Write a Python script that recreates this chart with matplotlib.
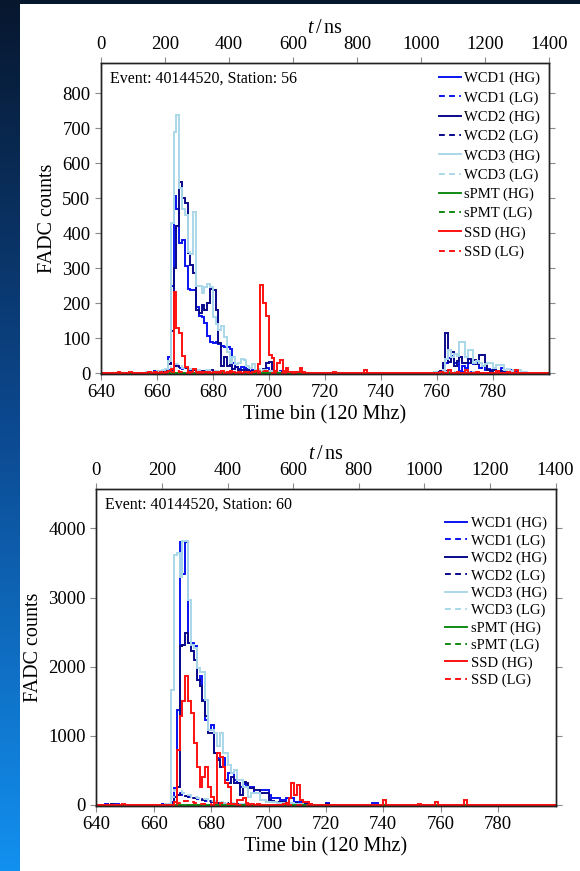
import numpy as np
import matplotlib.pyplot as plt
from matplotlib.colors import LinearSegmentedColormap
from matplotlib.patches import Rectangle

plt.rcParams.update({
    "font.family": "serif",
    "font.serif": ["Liberation Serif", "DejaVu Serif"],
    "mathtext.fontset": "custom",
    "mathtext.rm": "Liberation Serif",
    "mathtext.it": "Liberation Serif:italic",
    "axes.linewidth": 1.0,
    "axes.edgecolor": "#222222",
    "xtick.direction": "out",
    "ytick.direction": "out",
    "xtick.major.size": 4,
    "ytick.major.size": 4,
    "xtick.color": "#8a8a8a",
    "ytick.color": "#8a8a8a",
    "xtick.labelcolor": "black",
    "ytick.labelcolor": "black",
    "xtick.labelsize": 13.5,
    "ytick.labelsize": 13.5,
    "axes.labelsize": 14.5,
})

EVENT_ID = 40144520
BIN_LO, BIN_HI = 640, 800
CHANNELS = ["WCD1", "WCD2", "WCD3", "sPMT", "SSD"]
CH_COLORS = ["#0a14f0", "#0a0a8c", "#a9d8ea", "#138a13", "#ff1010"]

# ---- station 56: FADC counts per time bin ----
ST56_MAIN = 656
st56_wcd1_hg = [2, 0, 3, 5, 2, 6, 4, 10, 45, 250,
                505, 470, 372, 380, 305, 240, 238, 238, 190, 162,
                160, 143, 105, 88, 86, 88, 82, 78, 76, 76,
                70, 30, 18, 12, 18, 14, 12, 5, 10, 4,
                6, 3, 8, 14, 6, 10, 4, 2, 5, 2,
                0, 3, 0, 2, 0, 3, 0]
st56_wcd2_hg = [0, 2, 0, 3, 2, 4, 3, 6, 25, 120,
                300, 420, 547, 500, 486, 343, 310, 286, 180, 172,
                195, 180, 200, 240, 238, 180, 87, 19, 45, 20,
                35, 12, 18, 8, 10, 5, 8, 3, 6, 2,
                5, 3, 12, 30, 33, 10, 5, 2, 4, 0,
                3, 0, 2, 0, 0, 2, 0]
st56_wcd3_hg = [3, 0, 3, 2, 5, 3, 8, 12, 35, 430,
                690, 738, 530, 470, 452, 345, 340, 459, 250, 250,
                230, 247, 255, 247, 160, 140, 124, 135, 104, 60,
                30, 45, 25, 30, 40, 38, 20, 15, 25, 10,
                12, 6, 8, 4, 5, 3, 2, 4, 0, 2,
                0, 0, 3, 0, 0, 0, 2]
st56_ssd_hg = [0, 3, 0, 2, 0, 3, 0, 2, 5, 12,
               233, 128, 114, 50, 18, 4, 2, 12, 3, 2,
               0, 4, 2, 0, 3, 0, 2, 5, 0, 2,
               6, 2, 0, 3, 0, 2, 4, 0, 3, 5,
               25, 252, 200, 162, 52, 44, 5, 30, 38, 5,
               14, 3, 2, 4, 3, 16, 4]

ST56_LG = 660
st56_wcd1_lg = [0, 2, 1, 3, 8, 15, 22, 18, 14, 12,
                10, 9, 8, 7, 6, 6, 5, 5, 4, 3,
                3, 4, 2, 3, 2, 2, 1, 2, 1, 0]
st56_wcd2_lg = [1, 0, 2, 2, 5, 10, 16, 20, 18, 15,
                14, 11, 10, 8, 6, 6, 7, 6, 7, 8,
                7, 5, 3, 2, 2, 1, 2, 1, 0, 1]
st56_wcd3_lg = [0, 1, 0, 2, 4, 18, 26, 25, 20, 16,
                15, 12, 11, 14, 9, 8, 8, 8, 8, 8,
                6, 5, 4, 4, 3, 2, 2, 1, 1, 1]
st56_ssd_lg = [0, 0, 1, 0, 0, 2, 8, 5, 4, 2,
               1, 0, 0, 1, 0, 0, 0, 1, 0, 0,
               0, 0, 0, 0, 0, 0, 0, 0, 0, 0,
               0, 0, 0, 0, 0, 0, 1, 8, 6, 5,
               2, 1, 0, 1]

ST56_LATE = 758
st56_wcd1_hg_late = [0, 2, 3, 5, 20, 30, 42, 48, 30, 30,
                     5, 20, 15, 30, 38, 25, 30, 15, 20, 10,
                     12, 8, 10, 5, 3, 14, 4, 2, 8, 3,
                     2, 0, 3, 0, 0]
st56_wcd2_hg_late = [0, 0, 2, 5, 28, 116, 33, 60, 20, 35,
                     47, 30, 28, 40, 30, 38, 25, 52, 52, 24,
                     10, 5, 8, 3, 2, 5, 0, 2, 0, 3,
                     0, 0, 0, 0, 0]
st56_wcd3_hg_late = [0, 2, 0, 3, 10, 40, 67, 45, 55, 50,
                     90, 90, 47, 67, 67, 28, 35, 30, 20, 25,
                     28, 28, 15, 24, 24, 24, 10, 12, 5, 10,
                     8, 10, 3, 2, 0]
st56_ssd_hg_late = [0, 0, 0, 3, 0, 0, 10, 0, 0, 2,
                    0, 0, 8, 0, 0, 0, 2, 0, 0, 0,
                    0, 0, 0, 5, 0, 0, 0, 3, 0, 0,
                    10, 0, 0, 0, 0]
ST56_LG_LATE = 762
st56_wcd1_lg_late = [1, 2, 3, 2, 1, 2, 1, 2, 1, 1, 2, 1, 0, 1, 0]
st56_wcd2_lg_late = [2, 5, 3, 3, 2, 2, 3, 2, 1, 2, 2, 3, 1, 0, 1]
st56_wcd3_lg_late = [1, 3, 3, 2, 3, 4, 3, 2, 2, 2, 1, 2, 1, 1, 0]
st56_ssd_hg_blip = [(734, 8), (723, 3), (646, 4), (650, 3)]

# ---- station 60 ----
ST60_MAIN = 662
st60_wcd1_hg = [5, 8, 10, 15, 40, 250, 1380, 3810, 3340, 3810,
                2340, 2340, 2300, 1810, 1860, 1520, 1230, 1090, 1160, 750,
                680, 700, 680, 360, 460, 460, 360, 315, 265, 310,
                290, 265, 260, 170, 170, 215, 220, 210, 145, 97,
                100, 95, 72, 70, 97, 95, 97, 48, 50, 48,
                45, 48, 10, 5, 3]
st60_wcd2_hg = [3, 5, 8, 10, 30, 120, 266, 2295, 2320, 2490,
                2345, 2220, 2100, 1810, 1715, 1500, 1280, 1040, 1040, 750,
                650, 555, 555, 315, 315, 410, 315, 315, 145, 338,
                315, 240, 240, 217, 217, 170, 170, 170, 72, 60,
                48, 48, 48, 40, 30, 35, 25, 30, 20, 15,
                10, 8, 5, 2, 0]
st60_wcd3_hg = [5, 3, 8, 20, 1670, 3620, 3650, 3300, 3816, 3816,
                2970, 2320, 2270, 1980, 1930, 1930, 1520, 1090, 1090, 1040,
                846, 1040, 750, 750, 580, 460, 507, 362, 362, 266,
                266, 121, 170, 170, 170, 72, 72, 50, 50, 45,
                40, 35, 30, 25, 30, 20, 25, 15, 10, 8,
                5, 3, 2, 0, 0]
st60_ssd_hg = [0, 2, 0, 5, 3, 40, 800, 1280, 1500, 1860,
               1500, 1330, 895, 555, 266, 411, 556, 266, 121, 24,
               750, 700, 556, 314, 266, 10, 20, 70, 72, 100,
               30, 15, 10, 5, 8, 3, 5, 2, 4, 2,
               0, 3, 5, 10, 30, 97, 314, 145, 290, 72,
               48, 48, 10, 3, 0]

ST60_LG = 664
st60_wcd1_lg = [0, 5, 20, 210, 190, 170, 150, 130, 115, 100,
                95, 90, 80, 75, 62, 55, 48, 42, 35, 30,
                28, 25, 20, 18, 15, 12, 10, 8, 6, 5]
st60_wcd2_lg = [0, 3, 10, 40, 150, 160, 150, 135, 120, 105,
                95, 85, 80, 72, 65, 55, 48, 40, 35, 30,
                25, 22, 18, 15, 12, 10, 8, 6, 5, 3]
st60_wcd3_lg = [0, 5, 110, 220, 210, 195, 180, 160, 140, 125,
                115, 105, 100, 92, 80, 70, 60, 52, 45, 40,
                35, 30, 26, 22, 18, 15, 12, 10, 8, 6]
st60_ssd_lg = [0, 0, 2, 5, 30, 45, 55, 62, 50, 45,
               30, 20, 12, 15, 18, 10, 5, 3, 2, 25,
               22, 18, 12, 8, 2, 0, 2, 3, 3, 4]

st60_wcd1_hg_blip = [(643, 20), (647, 12), (720, 24), (736, 24), (737, 30)]
st60_wcd2_hg_blip = [(645, 10), (720, 20)]
st60_ssd_hg_blip = [(649, 15), (740, 75), (752, 15), (758, 40), (768, 70)]


def trace(segments=(), blips=()):
    counts = np.zeros(BIN_HI - BIN_LO)
    for start, vals in segments:
        i = start - BIN_LO
        counts[i:i + len(vals)] += vals
    for b, v in blips:
        counts[b - BIN_LO] += v
    return counts


st56 = {
    "WCD1": (trace([(ST56_MAIN, st56_wcd1_hg), (ST56_LATE, st56_wcd1_hg_late)]),
             trace([(ST56_LG, st56_wcd1_lg), (ST56_LG_LATE, st56_wcd1_lg_late)])),
    "WCD2": (trace([(ST56_MAIN, st56_wcd2_hg), (ST56_LATE, st56_wcd2_hg_late)]),
             trace([(ST56_LG, st56_wcd2_lg), (ST56_LG_LATE, st56_wcd2_lg_late)])),
    "WCD3": (trace([(ST56_MAIN, st56_wcd3_hg), (ST56_LATE, st56_wcd3_hg_late)]),
             trace([(ST56_LG, st56_wcd3_lg), (ST56_LG_LATE, st56_wcd3_lg_late)])),
    "sPMT": (trace(), trace()),
    "SSD": (trace([(ST56_MAIN, st56_ssd_hg), (ST56_LATE, st56_ssd_hg_late)], st56_ssd_hg_blip),
            trace([(ST56_LG, st56_ssd_lg)])),
}
st60 = {
    "WCD1": (trace([(ST60_MAIN, st60_wcd1_hg)], st60_wcd1_hg_blip),
             trace([(ST60_LG, st60_wcd1_lg)])),
    "WCD2": (trace([(ST60_MAIN, st60_wcd2_hg)], st60_wcd2_hg_blip),
             trace([(ST60_LG, st60_wcd2_lg)])),
    "WCD3": (trace([(ST60_MAIN, st60_wcd3_hg)]),
             trace([(ST60_LG, st60_wcd3_lg)])),
    "sPMT": (trace(), trace()),
    "SSD": (trace([(ST60_MAIN, st60_ssd_hg)], st60_ssd_hg_blip),
            trace([(ST60_LG, st60_ssd_lg)])),
}

W, H = 580, 871
fig = plt.figure(figsize=(W / 100, H / 100), dpi=100)

# slide backdrop: blue gradient behind a white page
bg = fig.add_axes([0, 0, 1, 1], zorder=-10)
bg.set_axis_off()
slide = LinearSegmentedColormap.from_list("slide", ["#07172e", "#0c4a92", "#1290f0"])
bg.imshow(np.linspace(0, 1, 256)[:, None], aspect="auto", cmap=slide,
          extent=[0, 1, 0, 1], origin="upper")
bg.add_patch(Rectangle((20 / W, 0), 1, 1 - 4 / H, color="white", lw=0))
bg.set_xlim(0, 1)
bg.set_ylim(0, 1)


def px_rect(left, top, right, bottom):
    return [left / W, 1 - bottom / H, (right - left) / W, (bottom - top) / H]


def draw_station(rect, station, traces, ylim, yticks, legend_gap, legend_y):
    ax = fig.add_axes(rect)
    edges = np.arange(BIN_LO, BIN_HI + 1)
    for ch, color in zip(CHANNELS, CH_COLORS):
        hg, lg = traces[ch]
        ax.stairs(hg, edges, baseline=None, color=color, lw=1.4, label=f"{ch} (HG)")
        ax.stairs(lg, edges, baseline=None, color=color, lw=1.4,
                  ls=(0, (3.0, 2.2)), label=f"{ch} (LG)")
    ax.set_xlim(BIN_LO, BIN_HI)
    ax.set_ylim(*ylim)
    ax.set_xticks(np.arange(640, 800, 20))
    ax.set_yticks(yticks)
    ax.tick_params(right=True, top=False)
    ax.set_xlabel("Time bin (120 Mhz)", labelpad=3)
    ax.set_ylabel("FADC counts", labelpad=4)
    ax.text(0.02, 0.975, f"Event: {EVENT_ID}, Station: {station}",
            transform=ax.transAxes, ha="left", va="top", fontsize=11.5)
    ax.legend(loc="upper right", bbox_to_anchor=(1.0, legend_y), frameon=False,
              fontsize=10.5, handlelength=1.5, handletextpad=0.25,
              labelspacing=legend_gap, borderaxespad=0.3, borderpad=0.3)

    top = ax.twiny()
    top.set_xlim(0, 1400)
    top.set_xticks(np.arange(0, 1401, 200))
    top.set_xlabel(r"$t\,/\,$ns", labelpad=2)
    return ax


draw_station(px_rect(100.8, 63, 549, 373.5), 56, st56,
             (-1, 886), np.arange(0, 801, 100), 0.40, 1.0)
draw_station(px_rect(96.3, 489, 555.5, 806), 60, st60,
             (-15, 4570), np.arange(0, 4001, 1000), 0.27, 0.94)

fig.savefig("out.png", dpi=100)
